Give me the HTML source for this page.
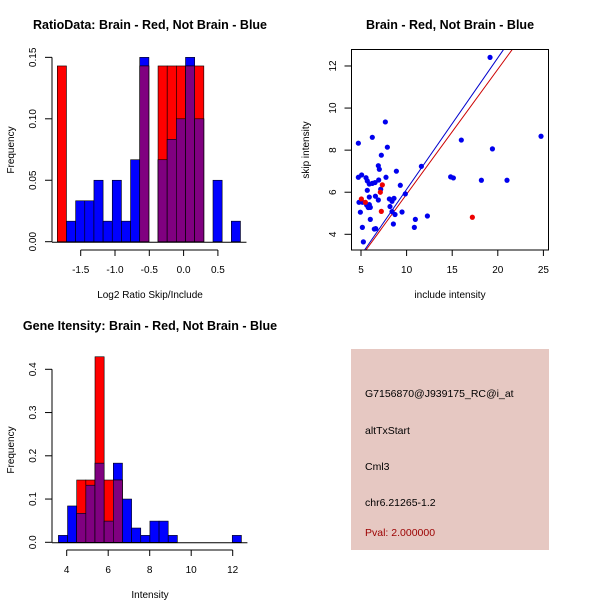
<!DOCTYPE html>
<html><head><meta charset="utf-8"><style>
html,body{margin:0;padding:0;background:#fff}
svg{display:block;font-family:"Liberation Sans",sans-serif}
</style></head><body>
<svg id="s" width="600" height="600" viewBox="0 0 600 600">
<rect width="600" height="600" fill="#fff"/>
<text x="150" y="29" font-size="12.5" font-weight="bold" text-anchor="middle">RatioData: Brain - Red, Not Brain - Blue</text>
<text x="450" y="29" font-size="12.5" font-weight="bold" text-anchor="middle">Brain - Red, Not Brain - Blue</text>
<text x="150" y="330" font-size="12.5" font-weight="bold" text-anchor="middle">Gene Itensity: Brain - Red, Not Brain - Blue</text>
<text x="150" y="298" font-size="10" text-anchor="middle">Log2 Ratio Skip/Include</text>
<text x="450" y="298" font-size="10" text-anchor="middle">include intensity</text>
<text x="150" y="598" font-size="10" text-anchor="middle">Intensity</text>
<text transform="translate(14,150) rotate(-90)" font-size="10" text-anchor="middle">Frequency</text>
<text transform="translate(309,150) rotate(-90)" font-size="10" text-anchor="middle">skip intensity</text>
<text transform="translate(14,450) rotate(-90)" font-size="10" text-anchor="middle">Frequency</text>
<g id="g1"></g>
<g id="g2"></g>
<g id="g3"></g>
<g>
<rect x="351" y="349" width="198" height="201" fill="#e6c8c2"/>
<text x="365" y="397" font-size="10.5">G7156870@J939175_RC@i_at</text>
<text x="365" y="434" font-size="10.5">altTxStart</text>
<text x="365" y="470" font-size="10.5">Cml3</text>
<text x="365" y="506" font-size="10.5">chr6.21265-1.2</text>
<text x="365" y="536" font-size="10.5" fill="#9b0000">Pval: 2.000000</text>
</g>
</svg>
<script>
// Ratio histogram data
const ratioBinStart = -1.841;
const ratioBinWidth = 0.1335;
const ratioBlue = [0,0.0167,0.0333,0.0333,0.05,0.0167,0.05,0.0167,0.0667,0.15,0,0.0667,0.0833,0.1,0.15,0.1,0,0.05,0,0.0167];
const ratioRed  = [0.143,0,0,0,0,0,0,0,0,0.143,0,0.143,0.143,0.143,0.143,0.143,0,0,0,0];
const ratioXTicks = [-1.5,-1.0,-0.5,0.0,0.5];
const ratioXTickLabels = ["-1.5","-1.0","-0.5","0.0","0.5"];
const ratioYTicks = [0,0.05,0.10,0.15];
const ratioYTickLabels = ["0.00","0.05","0.10","0.15"];
// Intensity histogram data
const intBinStart = 3.6;
const intBinWidth = 0.441;
const intBlue = [0.016,0.084,0.067,0.132,0.183,0.049,0.183,0.1,0.033,0.016,0.049,0.049,0.016,0,0,0,0,0,0,0.016];
const intRed  = [0,0,0.144,0.144,0.429,0.144,0.144,0,0,0,0,0,0,0,0,0,0,0,0,0];
const intXTicks = [4,6,8,10,12];
const intXTickLabels = ["4","6","8","10","12"];
const intYTicks = [0,0.1,0.2,0.3,0.4];
const intYTickLabels = ["0.0","0.1","0.2","0.3","0.4"];
// Scatter data
const blueX = [19.15,7.67,6.24,4.71,7.89,7.23,6.90,7.01,8.88,7.74,4.71,5.07,5.55,5.69,5.91,6.24,6.54,6.94,9.31,7.16,5.69,5.91,6.58,6.90,8.11,8.62,8.40,9.86,4.78,5.18,5.62,5.91,6.02,5.80,4.93,8.18,8.40,8.73,9.50,6.02,5.15,6.46,6.61,8.55,5.26,10.96,10.85,12.28,11.62,14.83,15.13,16.0,18.2,19.41,21.01,24.74];
const blueY = [12.41,9.34,8.61,8.33,8.14,7.76,7.26,7.09,7.0,6.71,6.71,6.82,6.69,6.54,6.39,6.42,6.46,6.58,6.33,6.14,6.09,5.77,5.81,5.63,5.68,5.71,5.57,5.92,5.52,5.52,5.39,5.41,5.28,5.27,5.05,5.32,5.08,4.94,5.06,4.71,4.33,4.25,4.27,4.49,3.64,4.71,4.33,4.87,7.23,6.73,6.68,8.48,6.57,8.06,6.57,8.66];
const redX = [5.04,5.48,7.34,7.12,7.23,17.21];
const redY = [5.68,5.52,6.35,6.0,5.09,4.81];
const blueLine = [5.40,3.26,20.61,12.77];
const redLine = [5.55,3.26,21.56,12.77];
const scXTicks = [5,10,15,20,25];
const scXTickLabels = ["5","10","15","20","25"];
const scYTicks = [4,6,8,10,12];
const scYTickLabels = ["4","6","8","10","12"];

const NS="http://www.w3.org/2000/svg";
function mk(p,t,a){const e=document.createElementNS(NS,t);for(const k in a)e.setAttribute(k,a[k]);p.appendChild(e);return e;}

function hist(g,start,w,blue,red,sx,sy,xt,xtl,yt,ytl,axisX,base,axY,pref){
  const n=blue.length;
  for(let i=0;i<n;i++){
    const x0=sx(start+i*w),x1=sx(start+(i+1)*w);
    const b=blue[i],r=red[i],m=Math.min(b,r);
    if(b>0){const e=mk(g,'rect',{x:x0,y:sy(b),width:x1-x0,height:sy(0)-sy(b),fill:'#0000ff',stroke:'#000','stroke-width':0.6});
      }
    if(r>0){const e=mk(g,'rect',{x:x0,y:sy(r),width:x1-x0,height:sy(0)-sy(r),fill:'#ff0000',stroke:'#000','stroke-width':0.6});
      }
    if(m>0){const e=mk(g,'rect',{x:x0,y:sy(m),width:x1-x0,height:sy(0)-sy(m),fill:'#800080',stroke:'#000','stroke-width':0.6});
      }
  }
  mk(g,'line',{x1:axisX,x2:sx(start+n*w)+6,y1:sy(0)+0.5,y2:sy(0)+0.5,stroke:'#000'});
  mk(g,'line',{x1:axisX,x2:axisX,y1:sy(yt[0]),y2:sy(yt[yt.length-1]),stroke:'#000'});
  yt.forEach((v,i)=>{mk(g,'line',{x1:axisX-7,x2:axisX,y1:sy(v),y2:sy(v),stroke:'#000'});
    const t=mk(g,'text',{transform:`translate(36,${sy(v)}) rotate(-90)`,'font-size':10,'text-anchor':'middle'});t.textContent=ytl[i];
    });
  mk(g,'line',{x1:sx(xt[0]),x2:sx(xt[xt.length-1]),y1:axY,y2:axY,stroke:'#000'});
  xt.forEach((v,i)=>{mk(g,'line',{x1:sx(v),x2:sx(v),y1:axY,y2:axY+6,stroke:'#000'});
    const t=mk(g,'text',{x:sx(v),y:axY+23,'font-size':10,'text-anchor':'middle'});t.textContent=xtl[i];
    });
}
hist(document.getElementById('g1'),ratioBinStart,ratioBinWidth,ratioBlue,ratioRed,
  v=>149.3+(v+0.5)*68.6, v=>241.7-v*1229, ratioXTicks,ratioXTickLabels,ratioYTicks,ratioYTickLabels,52,0,250,'ratio');
hist(document.getElementById('g3'),intBinStart,intBinWidth,intBlue,intRed,
  v=>66.7+(v-4)*20.75, v=>542.3-v*432.5, intXTicks,intXTickLabels,intYTicks,intYTickLabels,52,0,550,'intensity');

(function(){
  const g=document.getElementById('g2');
  const sx=v=>361+(v-5)*9.12, sy=v=>234.3-(v-4)*21.04;
  const L=351.5,R=548.5,T=49.5,B=250;
  const defs=mk(g,'defs',{});const cp=mk(defs,'clipPath',{id:'cp'});mk(cp,'rect',{x:L,y:T,width:R-L,height:B-T});
  [[blueLine,'#0000cc','blue-fit-line'],[redLine,'#cc0000','red-fit-line']].forEach(([l,c,n])=>{
    const e=mk(g,'line',{x1:sx(l[0]),y1:sy(l[1]),x2:sx(l[2]),y2:sy(l[3]),stroke:c,'stroke-width':1,'clip-path':'url(#cp)'});
    });
  blueX.forEach((x,i)=>{const e=mk(g,'circle',{cx:sx(x),cy:sy(blueY[i]),r:2.6,fill:'#0000ee'});
    });
  redX.forEach((x,i)=>{const e=mk(g,'circle',{cx:sx(x),cy:sy(redY[i]),r:2.6,fill:'#ee0000'});
    });
  mk(g,'rect',{x:L,y:T,width:R-L,height:B-T,fill:'none',stroke:'#000'});
  scXTicks.forEach((v,i)=>{mk(g,'line',{x1:sx(v),x2:sx(v),y1:B,y2:B+6,stroke:'#000'});
    const t=mk(g,'text',{x:sx(v),y:B+23,'font-size':10,'text-anchor':'middle'});t.textContent=scXTickLabels[i];
    });
  scYTicks.forEach((v,i)=>{mk(g,'line',{x1:L-7,x2:L,y1:sy(v),y2:sy(v),stroke:'#000'});
    const t=mk(g,'text',{transform:`translate(336,${sy(v)}) rotate(-90)`,'font-size':10,'text-anchor':'middle'});t.textContent=scYTickLabels[i];
    });
})();
</script>
</body></html>
